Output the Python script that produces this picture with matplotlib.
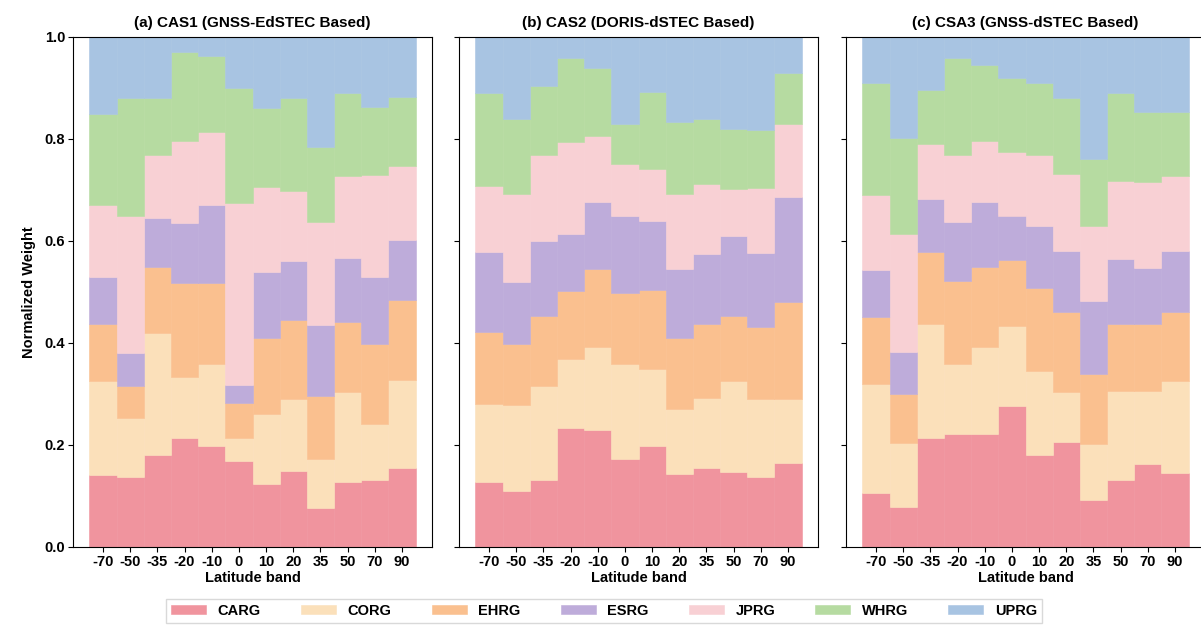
import matplotlib
matplotlib.use("Agg")
import matplotlib.pyplot as plt
import numpy as np

plt.rcParams['font.family'] = ['Liberation Sans', 'DejaVu Sans']
plt.rcParams['font.weight'] = 'bold'

bands = ["-70", "-50", "-35", "-20", "-10", "0", "10", "20", "35", "50", "70", "90"]
groups = ["CARG", "CORG", "EHRG", "ESRG", "JPRG", "WHRG", "UPRG"]
colors = ["#F0949E", "#FBE0BA", "#FAC08F", "#BEACDA", "#F8D0D4", "#B6DBA1", "#A8C4E2"]

titles = ["(a) CAS1 (GNSS-EdSTEC Based)",
          "(b) CAS2 (DORIS-dSTEC Based)",
          "(c) CSA3 (GNSS-dSTEC Based)"]

# CAS1 weights per latitude band
cas1_carg = [0.142, 0.137, 0.181, 0.213, 0.199, 0.169, 0.123, 0.150, 0.076, 0.128, 0.132, 0.154]
cas1_corg = [0.184, 0.115, 0.239, 0.120, 0.160, 0.045, 0.137, 0.140, 0.097, 0.175, 0.110, 0.174]
cas1_ehrg = [0.112, 0.064, 0.129, 0.184, 0.158, 0.069, 0.149, 0.155, 0.124, 0.139, 0.157, 0.156]
cas1_esrg = [0.092, 0.065, 0.097, 0.119, 0.153, 0.035, 0.130, 0.116, 0.139, 0.125, 0.130, 0.118]
cas1_jprg = [0.140, 0.268, 0.123, 0.161, 0.143, 0.357, 0.166, 0.138, 0.201, 0.161, 0.200, 0.145]
cas1_whrg = [0.180, 0.231, 0.111, 0.174, 0.149, 0.225, 0.155, 0.181, 0.147, 0.162, 0.134, 0.136]
cas1_uprg = [0.150, 0.120, 0.120, 0.029, 0.038, 0.100, 0.140, 0.120, 0.216, 0.110, 0.137, 0.117]

# CAS2 weights per latitude band
cas2_carg = [0.128, 0.109, 0.132, 0.233, 0.229, 0.173, 0.198, 0.143, 0.155, 0.147, 0.138, 0.165]
cas2_corg = [0.152, 0.169, 0.184, 0.136, 0.163, 0.186, 0.151, 0.127, 0.138, 0.179, 0.152, 0.125]
cas2_ehrg = [0.142, 0.121, 0.137, 0.132, 0.153, 0.139, 0.154, 0.139, 0.145, 0.127, 0.142, 0.191]
cas2_esrg = [0.156, 0.120, 0.147, 0.112, 0.132, 0.151, 0.136, 0.137, 0.137, 0.157, 0.145, 0.206]
cas2_jprg = [0.130, 0.173, 0.169, 0.181, 0.128, 0.102, 0.102, 0.146, 0.137, 0.092, 0.126, 0.142]
cas2_whrg = [0.182, 0.148, 0.134, 0.165, 0.134, 0.079, 0.152, 0.142, 0.127, 0.118, 0.114, 0.100]
cas2_uprg = [0.110, 0.160, 0.097, 0.041, 0.061, 0.170, 0.107, 0.166, 0.161, 0.180, 0.183, 0.071]

# CSA3 weights per latitude band
csa3_carg = [0.105, 0.079, 0.214, 0.222, 0.221, 0.277, 0.181, 0.206, 0.092, 0.132, 0.163, 0.145]
csa3_corg = [0.215, 0.125, 0.224, 0.137, 0.171, 0.156, 0.164, 0.097, 0.109, 0.174, 0.143, 0.181]
csa3_ehrg = [0.131, 0.096, 0.140, 0.162, 0.157, 0.130, 0.162, 0.158, 0.138, 0.132, 0.132, 0.135]
csa3_esrg = [0.093, 0.082, 0.105, 0.116, 0.128, 0.087, 0.122, 0.119, 0.144, 0.127, 0.109, 0.119]
csa3_jprg = [0.147, 0.231, 0.108, 0.131, 0.120, 0.124, 0.140, 0.151, 0.146, 0.153, 0.168, 0.148]
csa3_whrg = [0.218, 0.188, 0.105, 0.191, 0.149, 0.145, 0.140, 0.149, 0.132, 0.172, 0.137, 0.125]
csa3_uprg = [0.091, 0.199, 0.104, 0.041, 0.054, 0.081, 0.091, 0.120, 0.239, 0.110, 0.148, 0.147]

panels = [
    [cas1_carg, cas1_corg, cas1_ehrg, cas1_esrg, cas1_jprg, cas1_whrg, cas1_uprg],
    [cas2_carg, cas2_corg, cas2_ehrg, cas2_esrg, cas2_jprg, cas2_whrg, cas2_uprg],
    [csa3_carg, csa3_corg, csa3_ehrg, csa3_esrg, csa3_jprg, csa3_whrg, csa3_uprg],
]

W, H = 1201, 626
fig = plt.figure(figsize=(W / 100, H / 100), dpi=100)

lefts = [73, 459, 846]
ax_w, top, bottom = 359, 37, 547
x = np.arange(len(bands))
yticks = [0.0, 0.2, 0.4, 0.6, 0.8, 1.0]

axes = []
for i, (series, title) in enumerate(zip(panels, titles)):
    ax = fig.add_axes([lefts[i] / W, 1 - bottom / H, ax_w / W, (bottom - top) / H])
    base = np.zeros(len(bands))
    for vals, name, col in zip(series, groups, colors):
        vals = np.asarray(vals)
        ax.bar(x, vals, width=1.0, bottom=base, color=col, edgecolor=col,
               linewidth=0.4, label=name)
        base += vals
    ax.set_ylim(0, 1.0)
    ax.set_xticks(x)
    ax.set_xticklabels(bands, fontsize=10.5, fontweight='bold')
    ax.set_yticks(yticks)
    if i == 0:
        ax.set_yticklabels([f"{v:.1f}" for v in yticks], fontsize=10.5, fontweight='bold')
        ax.set_ylabel("Normalized Weight", fontsize=10.5, fontweight='bold', labelpad=6)
    else:
        ax.set_yticklabels([])
    ax.set_xlabel("Latitude band", fontsize=10.5, fontweight='bold', labelpad=2)
    ax.set_title(title, fontsize=11, fontweight='bold', pad=7)
    ax.tick_params(axis='both', length=3.5, width=0.8, pad=2)
    for s in ax.spines.values():
        s.set_linewidth(0.8)
    axes.append(ax)

handles, labels = axes[0].get_legend_handles_labels()
fig.legend(handles, labels, loc='center', bbox_to_anchor=(604 / W, 1 - 611 / H),
           ncol=7, frameon=True, handlelength=2.4, handleheight=0.55,
           handletextpad=0.8, columnspacing=2.75, borderpad=0.35, fancybox=False,
           edgecolor='#d0d0d0', prop={'weight': 'bold', 'size': 10.5})

fig.savefig("out.png", dpi=100)
